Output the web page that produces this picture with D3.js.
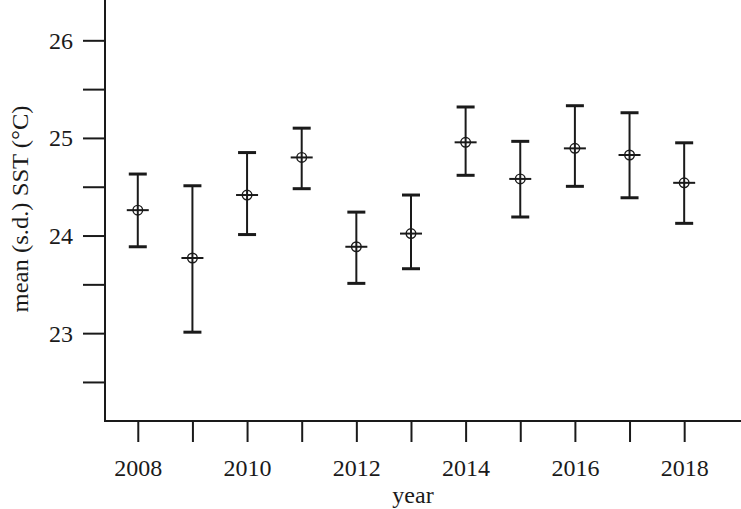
<!DOCTYPE html>
<html><head><meta charset="utf-8">
<script src="https://cdn.jsdelivr.net/npm/d3@7"></script>
<style>
html,body{margin:0;padding:0;background:#fff;}
svg{display:block;}
</style></head>
<body>
<svg id="chart" width="741" height="509"></svg>
<script>
const years = [2008,2009,2010,2011,2012,2013,2014,2015,2016,2017,2018];
const means = [24.26,23.77,24.415,24.80,23.885,24.02,24.955,24.58,24.893,24.825,24.54];
const upper = [24.63,24.51,24.85,25.10,24.24,24.415,25.317,24.965,25.33,25.258,24.95];
const lower = [23.885,23.01,24.01,24.48,23.51,23.66,24.617,24.19,24.504,24.387,24.125];
const xTickValues = [2008,2009,2010,2011,2012,2013,2014,2015,2016,2017,2018];
const xTickLabels = ["2008","","2010","","2012","","2014","","2016","","2018"];
const yMajorTicks = [23,24,25,26];
const yMinorTicks = [22.5,23.5,24.5,25.5];
const xTitle = "year";
const yTitle = "mean (s.d.) SST (°C)";

const FONT = "'Liberation Serif', 'Times New Roman', Tinos, Times, 'Nimbus Roman', serif";
const svg = d3.select("#chart");
const col = "#1a1a1a";
const x = d3.scaleLinear().domain([2007.4, 2019.04]).range([105, 741]);
const y = d3.scaleLinear().domain([22.1, 26.413]).range([421, 0]);

// axes lines
svg.append("line").attr("x1",105).attr("x2",105).attr("y1",0).attr("y2",421)
  .attr("stroke",col).attr("stroke-width",2);
svg.append("line").attr("x1",104).attr("x2",741).attr("y1",421).attr("y2",421)
  .attr("stroke",col).attr("stroke-width",2);

// y axis
const yAxis = d3.axisLeft(y).tickValues(yMajorTicks.concat(yMinorTicks).sort())
  .tickSize(22).tickPadding(10)
  .tickFormat(d => yMajorTicks.includes(d) ? d3.format("d")(d) : "");
const gy = svg.append("g").attr("transform","translate(105,0)").call(yAxis)
  .attr("font-family", FONT);
gy.select(".domain").remove();
gy.selectAll(".tick line").attr("stroke",col).attr("stroke-width",2);
gy.selectAll(".tick text").attr("font-size",24).attr("font-family",FONT).attr("dy","0.33em").attr("fill",col);

// x axis
const xAxis = d3.axisBottom(x).tickValues(xTickValues).tickSize(21).tickPadding(17)
  .tickFormat((d,i) => xTickLabels[i]);
const gx = svg.append("g").attr("transform","translate(0,421)").call(xAxis)
  .attr("font-family", FONT);
gx.select(".domain").remove();
gx.selectAll(".tick line").attr("stroke",col).attr("stroke-width",2);
gx.selectAll(".tick text").attr("font-size",24).attr("font-family",FONT).attr("dy","0.71em").attr("fill",col);

// titles
svg.append("text").attr("x",413).attr("y",503).attr("text-anchor","middle")
  .attr("font-family",FONT).attr("fill",col).attr("font-size",24).text(xTitle);
svg.append("text").attr("transform","translate(28,209) rotate(-90)").attr("text-anchor","middle")
  .attr("font-family",FONT).attr("fill",col).attr("font-size",24)
  .attr("textLength",207).attr("lengthAdjust","spacingAndGlyphs").text(yTitle);

// error bars
const data = years.map((yr,i)=>({yr, m:means[i], lo:lower[i], hi:upper[i]}));
const g = svg.append("g");
const pts = g.selectAll("g.pt").data(data).join("g").attr("class","pt");
pts.append("line").attr("x1",d=>x(d.yr)).attr("x2",d=>x(d.yr))
  .attr("y1",d=>y(d.hi)).attr("y2",d=>y(d.lo)).attr("stroke",col).attr("stroke-width",2);
pts.append("line").attr("x1",d=>x(d.yr)-9).attr("x2",d=>x(d.yr)+9)
  .attr("y1",d=>y(d.hi)).attr("y2",d=>y(d.hi)).attr("stroke",col).attr("stroke-width",3);
pts.append("line").attr("x1",d=>x(d.yr)-9).attr("x2",d=>x(d.yr)+9)
  .attr("y1",d=>y(d.lo)).attr("y2",d=>y(d.lo)).attr("stroke",col).attr("stroke-width",3);
pts.append("line").attr("x1",d=>x(d.yr)-11).attr("x2",d=>x(d.yr)+11)
  .attr("y1",d=>y(d.m)).attr("y2",d=>y(d.m)).attr("stroke",col).attr("stroke-width",2);
pts.append("circle").attr("cx",d=>x(d.yr)).attr("cy",d=>y(d.m)).attr("r",4.8)
  .attr("fill","none").attr("stroke",col).attr("stroke-width",1.4);
</script>
</body></html>
